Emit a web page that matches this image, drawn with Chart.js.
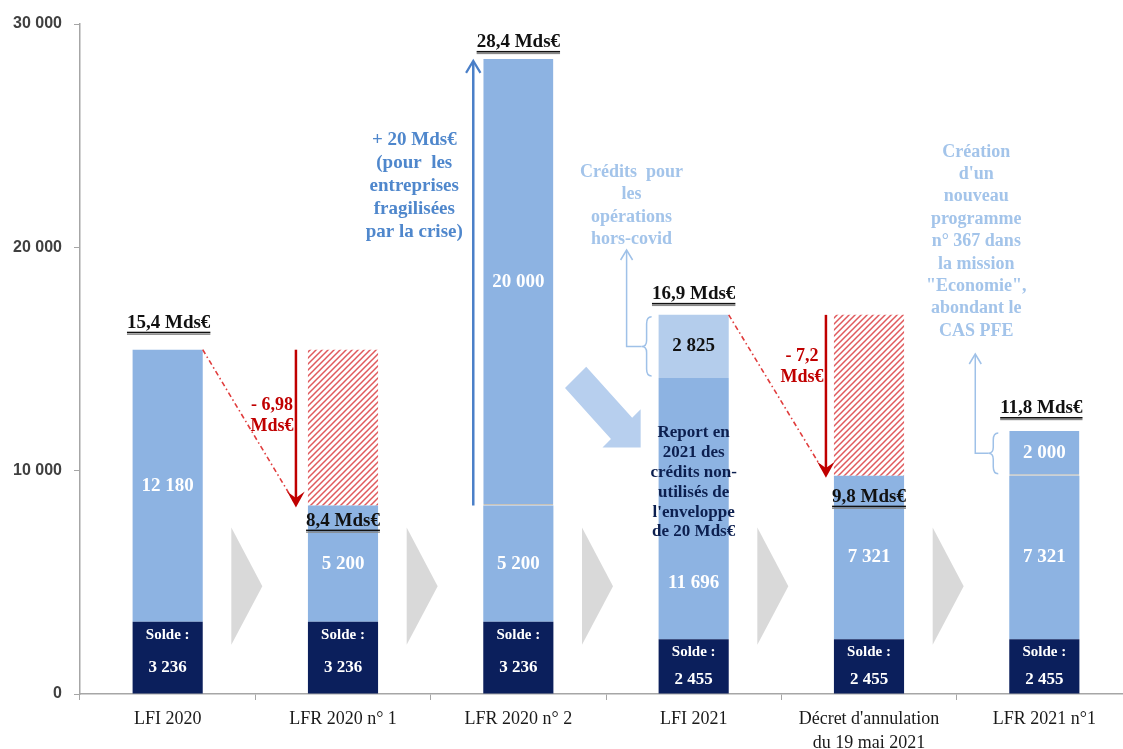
<!DOCTYPE html>
<html><head><meta charset="utf-8">
<script src="https://cdn.jsdelivr.net/npm/chart.js@4.4.0/dist/chart.umd.min.js"></script>
<style>html,body{margin:0;padding:0;background:#fff;overflow:hidden;width:1123px;height:749px}canvas{display:block}</style>
</head><body>
<canvas id="c" width="1132" height="749"></canvas>
<script>
// ---- DATA ----
const categories = ['LFI 2020', 'LFR 2020 n° 1', 'LFR 2020 n° 2', 'LFI 2021', ["Décret d'annulation", 'du 19 mai 2021'], 'LFR 2021 n°1'];
const solde = [3236, 3236, 3236, 2455, 2455, 2455];
const credits = [12180, 5200, 5200, 11696, 7321, 7321];
const ouvertures = [null, null, 20000, null, null, 2000];
const horsCovid = [null, null, null, 2825, null, null];
const annulations = [null, 6980, null, null, 7200, null];
const totalLabels = ['15,4 Mds€', '8,4 Mds€', '28,4 Mds€', '16,9 Mds€', '9,8 Mds€', '11,8 Mds€'];
const yTicks = [0, 10000, 20000, 30000];
const annulLabels = [['- 6,98', 'Mds€'], ['- 7,2', 'Mds€']];
const noteAjout = ['+ 20 Mds€', '(pour  les', 'entreprises', 'fragilisées', 'par la crise)'];
const noteHorsCovid = ['Crédits  pour', 'les', 'opérations', 'hors-covid'];
const noteReport = ['Report en', '2021 des', 'crédits non-', 'utilisés de', "l'enveloppe", 'de 20 Mds€'];
const noteCreation = ['Création', "d'un", 'nouveau', 'programme', 'n° 367 dans', 'la mission', '"Economie",', 'abondant le', 'CAS PFE'];

// ---- STYLE ----
const NAVY = '#0b1f5c', BLUE = '#8db3e2', LIGHT = '#b4cdec', RED = '#c00000';
const SERIF = '"Liberation Serif", "DejaVu Serif", serif';
const fmt = v => String(v).replace(/\B(?=(\d{3})+(?!\d))/g, ' ');

function makeHatch() {
  const c = document.createElement('canvas'); c.width = 6; c.height = 6;
  const g = c.getContext('2d');
  g.fillStyle = '#fff'; g.fillRect(0, 0, 6, 6);
  g.strokeStyle = '#e05a5d'; g.lineWidth = 1.5;
  g.beginPath();
  g.moveTo(-1, 7); g.lineTo(7, -1);
  g.moveTo(-1, 1); g.lineTo(1, -1);
  g.moveTo(5, 7); g.lineTo(7, 5);
  g.stroke();
  return g.createPattern(c, 'repeat');
}

function arrowHead(ctx, x, y, dir, size, filled) {
  ctx.beginPath();
  if (filled) {
    ctx.moveTo(x, y);
    ctx.lineTo(x - size * 0.55, y - dir * size);
    ctx.lineTo(x, y - dir * size * 0.6);
    ctx.lineTo(x + size * 0.55, y - dir * size);
    ctx.closePath(); ctx.fill();
  } else {
    ctx.moveTo(x - size * 0.6, y - dir * size);
    ctx.lineTo(x, y);
    ctx.lineTo(x + size * 0.6, y - dir * size);
    ctx.stroke();
  }
}
function lines(ctx, arr, x, y0, step) {
  arr.forEach((t, i) => ctx.fillText(t, x, y0 + i * step));
}
function brace(ctx, x, y1, y2) {
  const ym = (y1 + y2) / 2;
  ctx.beginPath();
  ctx.moveTo(x + 10, y1);
  ctx.quadraticCurveTo(x + 5, y1, x + 5, y1 + 7);
  ctx.lineTo(x + 5, ym - 6);
  ctx.quadraticCurveTo(x + 5, ym, x, ym);
  ctx.quadraticCurveTo(x + 5, ym, x + 5, ym + 6);
  ctx.lineTo(x + 5, y2 - 7);
  ctx.quadraticCurveTo(x + 5, y2, x + 10, y2);
  ctx.stroke();
}

const annot = {
  id: 'annot',
  beforeDatasetsDraw(chart) {
    const ctx = chart.ctx, xs = chart.scales.x, ys = chart.scales.y;
    ctx.save();
    ctx.fillStyle = '#d9d9d9';
    for (let i = 0; i < categories.length - 1; i++) {
      const b = (xs.getPixelForValue(i) + xs.getPixelForValue(i + 1)) / 2;
      const t = ys.getPixelForValue(7450), bt = ys.getPixelForValue(2200);
      ctx.beginPath();
      ctx.moveTo(b - 24, t); ctx.lineTo(b + 7, (t + bt) / 2); ctx.lineTo(b - 24, bt); ctx.closePath(); ctx.fill();
    }
    ctx.restore();
  },
  afterDatasetsDraw(chart) {
    const ctx = chart.ctx, xs = chart.scales.x, ys = chart.scales.y;
    const cx = i => xs.getPixelForValue(i);
    const metaOf = d => chart.getDatasetMeta(d).data;
    ctx.save();
    ctx.textAlign = 'center'; ctx.textBaseline = 'middle';

    const sMeta = metaOf(0), cMeta = metaOf(1), oMeta = metaOf(2), hMeta = metaOf(3);
    for (let i = 0; i < categories.length; i++) {
      const s = sMeta[i];
      ctx.fillStyle = '#fff';
      ctx.font = 'bold 15px ' + SERIF;
      ctx.fillText('Solde :', s.x, s.y + 13);
      ctx.font = 'bold 17px ' + SERIF;
      ctx.fillText(fmt(solde[i]), s.x, Math.min(s.y + 46, s.base - 14));
      const c = cMeta[i];
      ctx.font = 'bold 19px ' + SERIF;
      const cy = i === 3 ? ys.getPixelForValue(4950) : (c.y + c.base) / 2;
      ctx.fillText(fmt(credits[i]), c.x, cy);
      if (ouvertures[i] != null) {
        const o = oMeta[i];
        ctx.fillText(fmt(ouvertures[i]), o.x, (o.y + o.base) / 2);
      }
      if (horsCovid[i] != null) {
        const h = hMeta[i];
        ctx.fillStyle = '#111';
        ctx.fillText(fmt(horsCovid[i]), h.x, (h.y + h.base) / 2);
      }
    }

    const totals = categories.map((_, i) => (solde[i] || 0) + (credits[i] || 0) + (ouvertures[i] || 0) + (horsCovid[i] || 0));
    const offs = [-27, 15, -17, -21, 21, -23];
    const dxs = [1, 0, 0, 0, 0, -3];
    ctx.font = 'bold 19px ' + SERIF;
    totalLabels.forEach((t, i) => {
      const x = cx(i) + dxs[i], y = ys.getPixelForValue(totals[i]) + offs[i];
      ctx.fillStyle = '#111';
      ctx.fillText(t, x, y);
      const w = ctx.measureText(t).width;
      ctx.fillRect(x - w / 2, y + 9, w, 1.6);
      ctx.fillStyle = '#888';
      ctx.fillRect(x - w / 2, y + 11, w, 1.2);
    });

    const reds = [[0, 1], [3, 4]];
    reds.forEach(([from, to], k) => {
      const topV = totals[from];
      const fm = cMeta[from], tm = sMeta[to];
      const xFrom = from === 3 ? hMeta[from].x + hMeta[from].width / 2 : fm.x + fm.width / 2;
      const xArrow = tm.x - tm.width / 2 - (k === 0 ? 12 : 8);
      const yTop = ys.getPixelForValue(topV);
      const yBot = ys.getPixelForValue(totals[to]) + 2;
      ctx.strokeStyle = '#e03c3c'; ctx.lineWidth = 1.6;
      ctx.setLineDash([5, 3, 1.5, 3]);
      ctx.beginPath(); ctx.moveTo(xFrom, yTop); ctx.lineTo(xArrow - 2, yBot - 6); ctx.stroke();
      ctx.setLineDash([]);
      ctx.strokeStyle = RED; ctx.fillStyle = RED; ctx.lineWidth = 2.5;
      ctx.beginPath(); ctx.moveTo(xArrow, yTop); ctx.lineTo(xArrow, yBot - 4); ctx.stroke();
      arrowHead(ctx, xArrow, yBot, 1, 16, true);
      ctx.font = 'bold 18px ' + SERIF;
      const ly = k === 0 ? 405 : 356;
      lines(ctx, annulLabels[k], xArrow - 24, ly, 21);
    });

    {
      const o = oMeta[2];
      const xa = o.x - o.width / 2 - 10;
      ctx.strokeStyle = '#4a7fc8'; ctx.lineWidth = 2.5;
      ctx.beginPath(); ctx.moveTo(xa, o.base); ctx.lineTo(xa, o.y + 3); ctx.stroke();
      ctx.lineWidth = 2.2;
      arrowHead(ctx, xa, o.y + 2, -1, 12, false);
      ctx.fillStyle = '#4f87cc';
      ctx.font = 'bold 19px ' + SERIF;
      lines(ctx, noteAjout, xa - 59, 140, 23);
    }

    {
      const h = hMeta[3];
      const xl = h.x - h.width / 2;
      ctx.strokeStyle = '#9fc1e8'; ctx.lineWidth = 1.5;
      brace(ctx, xl - 17, h.y + 2, h.base - 2);
      const ym = (h.y + h.base) / 2;
      ctx.beginPath(); ctx.moveTo(xl - 17, ym); ctx.lineTo(xl - 32, ym); ctx.lineTo(xl - 32, 251); ctx.stroke();
      arrowHead(ctx, xl - 32, 250, -1, 10, false);
      ctx.fillStyle = '#a3c4ea';
      ctx.font = 'bold 18px ' + SERIF;
      lines(ctx, noteHorsCovid, xl - 27, 172, 22.5);
    }

    {
      const o = oMeta[5];
      const xl = o.x - o.width / 2;
      ctx.strokeStyle = '#9fc1e8'; ctx.lineWidth = 1.5;
      brace(ctx, xl - 21, o.y + 2, o.base - 2);
      const ym = (o.y + o.base) / 2;
      ctx.beginPath(); ctx.moveTo(xl - 21, ym); ctx.lineTo(xl - 34, ym); ctx.lineTo(xl - 34, 355); ctx.stroke();
      arrowHead(ctx, xl - 34, 354, -1, 10, false);
      ctx.fillStyle = '#a3c4ea';
      ctx.font = 'bold 18px ' + SERIF;
      lines(ctx, noteCreation, xl - 33, 152, 22.4);
    }

    {
      ctx.fillStyle = '#0c1f4f';
      ctx.font = 'bold 17px ' + SERIF;
      lines(ctx, noteReport, cx(3), 433, 19.8);
    }

    {
      const T = [cx(3) - 53, ys.getPixelForValue(11040)];
      const u = [Math.SQRT1_2, Math.SQRT1_2], p = [Math.SQRT1_2, -Math.SQRT1_2];
      const C0 = [T[0] - 92 * u[0], T[1] - 99 * u[1]];
      const B = [T[0] - 27 * u[0], T[1] - 27 * u[1]];
      const pt = (P, k) => [P[0] + k * p[0], P[1] + k * p[1]];
      const pts = [pt(C0, 15), pt(B, 15), pt(B, 27), T, pt(B, -27), pt(B, -15), pt(C0, -15)];
      ctx.fillStyle = '#b7cfee';
      ctx.beginPath(); pts.forEach((q, i) => i ? ctx.lineTo(q[0], q[1]) : ctx.moveTo(q[0], q[1])); ctx.closePath(); ctx.fill();
    }
    ctx.restore();
  }
};

const hatch = makeHatch();
new Chart(document.getElementById('c'), {
  type: 'bar',
  data: {
    labels: categories,
    datasets: [
      { label: 'Solde', data: solde, backgroundColor: NAVY },
      { label: 'Crédits', data: credits, backgroundColor: BLUE },
      { label: 'Ouvertures', data: ouvertures, backgroundColor: BLUE, borderColor: '#c9c3b8', borderWidth: { top: 0, left: 0, right: 0, bottom: 1.5 }, borderSkipped: false },
      { label: 'Hors covid', data: horsCovid, backgroundColor: LIGHT },
      { label: 'Annulations', data: annulations, backgroundColor: hatch }
    ]
  },
  options: {
    responsive: false, animation: false, devicePixelRatio: 1,
    layout: { padding: { top: 24, right: 0, bottom: 0, left: 0 } },
    plugins: { legend: { display: false }, tooltip: { enabled: false } },
    datasets: { bar: { barPercentage: 0.4, categoryPercentage: 1 } },
    scales: {
      x: {
        stacked: true,
        grid: { display: true, drawOnChartArea: false, tickLength: 6, color: '#a6a6a6', offset: true },
        border: { color: '#a6a6a6', width: 1.5 },
        ticks: { font: { family: SERIF, size: 18, lineHeight: 1.3 }, color: '#1a1a1a', padding: 8, maxRotation: 0, autoSkip: false },
        afterFit: s => { s.height = 55; }
      },
      y: {
        stacked: true, min: 0, max: 30000,
        afterBuildTicks: s => { s.ticks = yTicks.map(v => ({ value: v })); },
        grid: { drawOnChartArea: false, tickLength: 6, color: '#a6a6a6' },
        border: { color: '#a6a6a6', width: 1.5 },
        ticks: { font: { family: '"Liberation Sans", Arial, sans-serif', size: 16, weight: 'bold' }, color: '#404040', padding: 12, callback: v => fmt(v) },
        afterFit: s => { s.width = 80; }
      }
    }
  },
  plugins: [annot]
});
</script>
</body></html>
